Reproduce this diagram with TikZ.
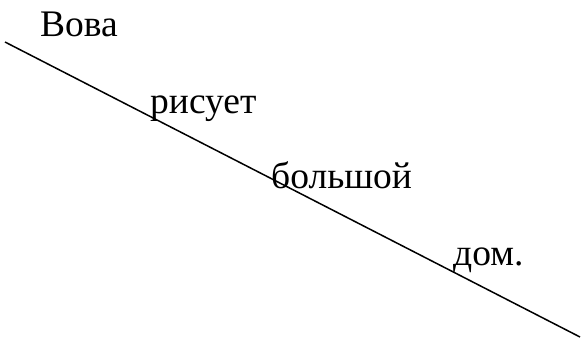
\documentclass[tikz,border=0pt]{standalone}
\usepackage{fontspec}
\setmainfont{Liberation Serif}
\begin{document}
\begin{tikzpicture}[x=1pt,y=-1pt,
  word/.style={anchor=base west,inner sep=0pt,font=\fontsize{37.5}{42}\selectfont}]
\useasboundingbox (0,0) rectangle (581,340);
\coordinate (s) at (5,42);
\coordinate (e) at (580,337);
\draw[line width=1.5pt] (s) -- (e);
\node[word] (w1) at (40,36) {Вова};
\node[word] (w2) at (150,113) {рисует};
\node[word] (w3) at (271,188) {большой};
\node[word] (w4) at (453,265) {дом.};
\end{tikzpicture}
\end{document}
